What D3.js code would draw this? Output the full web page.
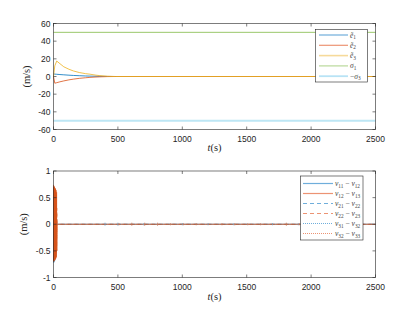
<!DOCTYPE html>
<html>
<head>
<meta charset="utf-8">
<script src="https://cdn.jsdelivr.net/npm/d3@7"></script>
<style>
  body { margin: 0; background: #fff; }
  svg { display: block; }
</style>
</head>
<body>
<svg id="chart" width="415" height="312"></svg>
<script>
'use strict';

// top panel: estimation errors and bounds
var tTop = [0, 10, 25, 50, 80, 120, 154, 200, 250, 283, 330, 360, 420, 480, 2500];
var e1 = [2.8, 2.7, 2.5, 2.2, 1.9, 1.5, 1.2, 0.9, 0.6, 0.45, 0.3, 0.2, 0.05, 0, 0];
var e2 = [0, -7.6, -7.0, -6.0, -5.0, -3.8, -3.0, -2.1, -1.4, -1.0, -0.6, -0.4, -0.1, 0, 0];
var e3 = [0, 12, 17.5, 14.5, 11, 8.2, 6.3, 4.5, 3.2, 2.6, 1.5, 1.0, 0.3, 0, 0];
var sigma1 = [50, 50];
var sigma3 = [-50, -50];
var tBound = [0, 2500];

// bottom panel: velocity differences
var tLow = [0, 2, 4, 6, 8, 10, 12, 14, 16, 18, 20, 22, 24, 26, 30, 2500];
var v11_12 = [0.7, -0.72, 0.69, -0.7, 0.66, -0.68, 0.62, -0.64, 0.58, -0.6, 0.4, -0.3, 0.1, 0, 0, 0];
var v12_13 = [0.74, -0.7, 0.72, -0.69, 0.7, -0.67, 0.68, -0.66, 0.66, -0.64, 0.64, -0.62, 0.6, -0.5, 0, 0];
var v21_22 = [-0.68, 0.7, -0.66, 0.68, -0.62, 0.64, -0.58, 0.6, -0.5, 0.45, -0.3, 0.2, 0, 0, 0, 0];
var v22_23 = [-0.7, 0.72, -0.68, 0.7, -0.66, 0.68, -0.64, 0.66, -0.62, 0.62, -0.58, 0.55, -0.5, 0.3, 0, 0];
var v31_32 = [0.6, -0.66, 0.62, -0.64, 0.6, -0.6, 0.55, -0.55, 0.45, -0.4, 0.25, -0.15, 0, 0, 0, 0];
var v32_33 = [-0.62, 0.68, -0.64, 0.66, -0.6, 0.62, -0.58, 0.6, -0.55, 0.55, -0.5, 0.45, -0.3, 0.1, 0, 0];
// small blips along the zero line
var blipT = [400, 500, 600, 700, 800, 900, 1000, 1100, 1200, 1300, 1400, 1500, 1600, 1700, 1800, 1900];
var blipBlue = [0.03, 0.03, 0, 0.02, 0, 0, 0.02, 0, 0.02, 0, 0.02, 0, 0, 0.02, 0, 0.02];
var blipOrange = [0, 0.02, 0.03, 0.03, 0.03, 0.02, 0.02, 0.02, 0, 0.02, 0.02, 0.02, 0.02, 0, 0.03, 0.02];

var xTicks = [0, 500, 1000, 1500, 2000, 2500];
var yTicksTop = [-60, -40, -20, 0, 20, 40, 60];
var yTicksLow = [-1, -0.5, 0, 0.5, 1];

var blue = '#0072BD', orange = '#D95319', yellow = '#EDB120',
    green = '#77AC30', cyan = '#4DBEEE';
// faded versions used for the legend samples
var blueL = '#6FAEDB', orangeL = '#EC9373', yellowL = '#F6DA9A',
    greenL = '#B9D99A', cyanL = '#B8E3F5';

var svg = d3.select('#chart');
var L = 53.5, R = 375.5;
var x = d3.scaleLinear().domain([0, 2500]).range([L, R]);
var yTop = d3.scaleLinear().domain([-60, 60]).range([129.5, 23.5]);
var yLow = d3.scaleLinear().domain([-1, 1]).range([277.5, 171]);

var tickFont = '"Liberation Sans", Arial, sans-serif';
var mathFont = '"Liberation Serif", "DejaVu Serif", serif';
var axisColor = '#262626';

function frame(y, yTicks, fmt, titleY, labelX) {
  var g = svg.append('g');
  var top = y.range()[1], bot = y.range()[0];
  g.append('rect')
    .attr('x', L).attr('y', top)
    .attr('width', R - L).attr('height', bot - top)
    .attr('fill', 'none').attr('stroke', axisColor).attr('stroke-width', 0.6);
  xTicks.forEach(function(t) {
    g.append('line').attr('x1', x(t)).attr('x2', x(t)).attr('y1', bot).attr('y2', bot - 3)
      .attr('stroke', axisColor).attr('stroke-width', 0.6);
    g.append('line').attr('x1', x(t)).attr('x2', x(t)).attr('y1', top).attr('y2', top + 3)
      .attr('stroke', axisColor).attr('stroke-width', 0.6);
    g.append('text').attr('x', x(t)).attr('y', bot + 12)
      .attr('text-anchor', 'middle').attr('font-family', tickFont).attr('font-size', 8.5)
      .attr('fill', axisColor).text(t);
  });
  yTicks.forEach(function(v) {
    g.append('line').attr('x1', L).attr('x2', L + 3).attr('y1', y(v)).attr('y2', y(v))
      .attr('stroke', axisColor).attr('stroke-width', 0.6);
    g.append('line').attr('x1', R).attr('x2', R - 3).attr('y1', y(v)).attr('y2', y(v))
      .attr('stroke', axisColor).attr('stroke-width', 0.6);
    g.append('text').attr('x', L - 3).attr('y', y(v) + 3)
      .attr('text-anchor', 'end').attr('font-family', tickFont).attr('font-size', 8.5)
      .attr('fill', axisColor).text(fmt(v));
  });
  var tt = g.append('text').attr('x', (L + R) / 2).attr('y', titleY)
    .attr('text-anchor', 'middle').attr('font-family', mathFont).attr('font-size', 10.5)
    .attr('fill', axisColor);
  tt.append('tspan').attr('font-style', 'italic').text('t');
  tt.append('tspan').text('(s)');
  g.append('text')
    .attr('transform', 'translate(' + labelX + ',' + ((top + bot) / 2) + ') rotate(-90)')
    .attr('text-anchor', 'middle').attr('font-family', mathFont).attr('font-size', 10.5)
    .attr('fill', axisColor).text('(m/s)');
}

function series(ts, vs, y, color, width, dash, opacity) {
  var line = d3.line().x(function(d) { return x(d[0]); }).y(function(d) { return y(d[1]); });
  svg.append('path')
    .attr('d', line(ts.map(function(t, i) { return [t, vs[i]]; })))
    .attr('fill', 'none').attr('stroke', color).attr('stroke-width', width)
    .attr('stroke-dasharray', dash || null)
    .attr('stroke-opacity', opacity || 1);
}

// ---- top panel
series(tTop, e1, yTop, blue, 0.8);
series(tTop, e2, yTop, orange, 0.8);
series(tTop, e3, yTop, yellow, 0.8);
series(tBound, sigma1, yTop, '#8FC25A', 0.9);
series(tBound, sigma3, yTop, '#BDE6F4', 2);
frame(yTop, yTicksTop, function(v) { return v; }, 151, 30);

// ---- bottom panel
series(tLow, v11_12, yLow, blue, 0.8, null, 0.6);
series(tLow, v21_22, yLow, blue, 0.8, '4,3', 0.6);
series(tLow, v22_23, yLow, orange, 0.8, '4,3', 0.6);
series(tLow, v31_32, yLow, blue, 0.8, '1,1', 0.5);
series(tLow, v32_33, yLow, orange, 0.8, '1,1', 0.5);
series(tLow, v12_13, yLow, orange, 0.8, null, 0.85);
blipT.forEach(function(t, i) {
  if (blipBlue[i]) {
    svg.append('line').attr('x1', x(t)).attr('x2', x(t))
      .attr('y1', yLow(blipBlue[i])).attr('y2', yLow(-blipBlue[i]))
      .attr('stroke', '#6FA8D0').attr('stroke-width', 0.7);
  }
  if (blipOrange[i]) {
    svg.append('line').attr('x1', x(t + 8)).attr('x2', x(t + 8))
      .attr('y1', yLow(blipOrange[i])).attr('y2', yLow(-blipOrange[i]))
      .attr('stroke', '#C9795A').attr('stroke-width', 0.7);
  }
});
frame(yLow, yTicksLow, function(v) { return v; }, 300, 27);

// ---- legends
function legend(items, bx, by, bw, bh, y0, dy, lineX0, lineX1, fs) {
  var g = svg.append('g');
  g.append('rect').attr('x', bx).attr('y', by).attr('width', bw).attr('height', bh)
    .attr('fill', '#fff').attr('stroke', axisColor).attr('stroke-width', 0.6);
  items.forEach(function(it, i) {
    var yy = y0 + i * dy;
    g.append('line').attr('x1', lineX0).attr('x2', lineX1).attr('y1', yy).attr('y2', yy)
      .attr('stroke', it.color).attr('stroke-width', it.width || 1.2)
      .attr('stroke-dasharray', it.dash || null);
    var txt = g.append('text').attr('x', lineX1 + 2).attr('y', yy + 2.5)
      .attr('font-family', mathFont).attr('font-size', fs).attr('fill', '#444');
    it.parts.forEach(function(p) {
      var s = txt.append('tspan').text(p[0]);
      if (p[1] === 'i') s.attr('font-style', 'italic');
      if (p[1] === 's') s.attr('font-size', fs * 0.7).attr('dy', 1.5);
      if (p[1] === 'r') s.attr('dy', -1.5);
    });
  });
}

legend([
  {color: blueL, parts: [['ẽ', 'i'], ['1', 's']]},
  {color: orangeL, parts: [['ẽ', 'i'], ['2', 's']]},
  {color: yellowL, width: 1.6, parts: [['ẽ', 'i'], ['3', 's']]},
  {color: greenL, parts: [['σ', 'i'], ['1', 's']]},
  {color: cyanL, width: 1.8, parts: [['−', ''], ['σ', 'i'], ['3', 's']]}
], 315.5, 29.5, 52, 52.5, 35, 10.3, 319, 348, 7.5);

function vLabel(a, b) {
  return [['v', 'i'], [a, 's'], [' − ', 'r'], ['v', 'i'], [b, 's']];
}
legend([
  {color: blueL, parts: vLabel('11', '12')},
  {color: orangeL, parts: vLabel('12', '13')},
  {color: blueL, dash: '4,3', parts: vLabel('21', '22')},
  {color: orangeL, dash: '4,3', parts: vLabel('22', '23')},
  {color: blueL, dash: '1,1', parts: vLabel('31', '32')},
  {color: orangeL, dash: '1,1', parts: vLabel('32', '33')}
], 300.5, 176, 62.5, 64, 183.5, 10, 303, 333, 7.5);
</script>
</body>
</html>
